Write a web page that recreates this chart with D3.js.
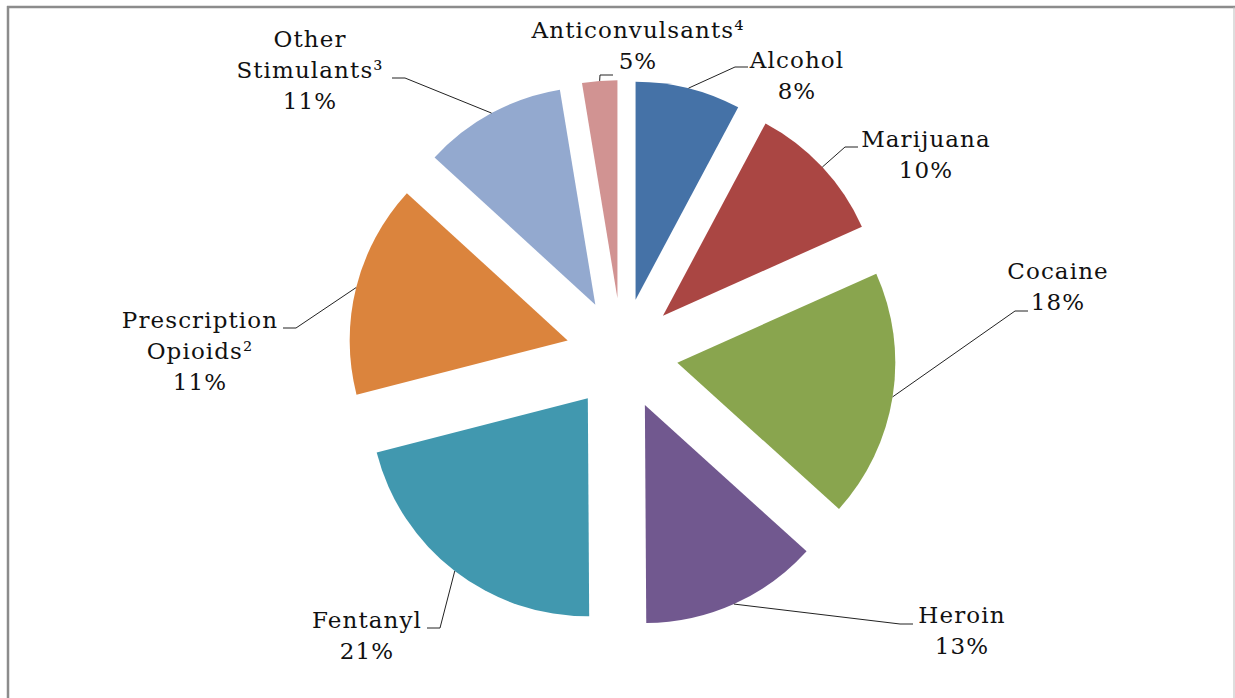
<!DOCTYPE html>
<html>
<head>
<meta charset="utf-8">
<script src="https://cdn.jsdelivr.net/npm/d3@7"></script>
<style>
  body { margin: 0; background: #fff; }
  svg { display: block; }
  text { font-family: "DejaVu Serif", serif; font-size: 23px; letter-spacing: 1.1px; fill: #111; }
</style>
</head>
<body>
<svg id="chart" width="1235" height="698"></svg>
<script>
// slice shares (angle / 360)
const categories = ['Alcohol', 'Marijuana', 'Cocaine', 'Heroin', 'Fentanyl',
  'Prescription Opioids', 'Other Stimulants', 'Anticonvulsants'];
const values = [7.8, 10.5, 18.4, 13.2, 21.1, 15.8, 10.6, 2.6];
// label texts as printed on the chart
const nameLines = [['Alcohol'], ['Marijuana'], ['Cocaine'], ['Heroin'], ['Fentanyl'],
  ['Prescription', 'Opioids²'], ['Other', 'Stimulants³'], ['Anticonvulsants⁴']];
const pctLabels = ['8%', '10%', '18%', '13%', '21%', '11%', '11%', '5%'];
const colors = ['#4572A7', '#AA4643', '#89A54E', '#71588F', '#4198AF',
  '#DB843D', '#93A9CF', '#D19392'];

// label placement (text centre / first baseline, and where the leader ends)
const labelLayout = [
  { x: 797, y: 68, ex: 748, ey: 67 },
  { x: 926, y: 147, ex: 858, ey: 147 },
  { x: 1058, y: 279, ex: 1028, ey: 311 },
  { x: 962, y: 623, ex: 913, ey: 624 },
  { x: 367, y: 628, ex: 427, ey: 628 },
  { x: 200, y: 328, ex: 283, ey: 328 },
  { x: 310, y: 47, ex: 392, ey: 78 },
  { x: 638, y: 38, ex: 613, ey: 75 },
];

const svg = d3.select('#chart');
const W = 1235, H = 698;

// chart frame
svg.append('line').attr('x1', 7).attr('x2', W).attr('y1', 7).attr('y2', 7)
  .attr('stroke', '#8c8c8c').attr('stroke-width', 2.5);
svg.append('line').attr('x1', 8).attr('x2', 8).attr('y1', 6).attr('y2', H)
  .attr('stroke', '#8c8c8c').attr('stroke-width', 2.5);
svg.append('line').attr('x1', W - 1).attr('x2', W - 1).attr('y1', 7).attr('y2', H)
  .attr('stroke', '#bdbdbd').attr('stroke-width', 1);

const cx = 622, cy = 354;
const radius = 218;
const explode = 56;

const pie = d3.pie().sort(null).value((d) => d);
const arcs = pie(values);
const arc = d3.arc().innerRadius(0).outerRadius(radius);

const g = svg.append('g').attr('transform', `translate(${cx},${cy})`);

const offset = (a, r) => [Math.sin(a) * r, -Math.cos(a) * r];

g.selectAll('path.slice')
  .data(arcs)
  .enter()
  .append('path')
  .attr('class', 'slice')
  .attr('d', arc)
  .attr('fill', (d, i) => colors[i])
  .attr('transform', (d) => {
    const [dx, dy] = offset((d.startAngle + d.endAngle) / 2, explode);
    return `translate(${dx},${dy})`;
  });

// leader lines: from arc midpoint to an elbow, then a short horizontal run
arcs.forEach((d, i) => {
  const mid = (d.startAngle + d.endAngle) / 2;
  const [ox, oy] = offset(mid, explode);
  const [ax, ay] = offset(mid, radius);
  const sx = cx + ox + ax, sy = cy + oy + ay;
  const L = labelLayout[i];
  const dir = L.ex > sx ? -1 : 1;
  const elbowX = L.ex + dir * 13;
  svg.append('polyline')
    .attr('points', `${sx},${sy} ${elbowX},${L.ey} ${L.ex},${L.ey}`)
    .attr('fill', 'none')
    .attr('stroke', '#222')
    .attr('stroke-width', 1);
});

// labels
const lineH = 31;
categories.forEach((c, i) => {
  const L = labelLayout[i];
  const lines = nameLines[i].concat([pctLabels[i]]);
  const t = svg.append('text').attr('text-anchor', 'middle');
  lines.forEach((s, j) => {
    t.append('tspan').attr('x', L.x).attr('y', L.y + j * lineH).text(s);
  });
});
</script>
</body>
</html>
